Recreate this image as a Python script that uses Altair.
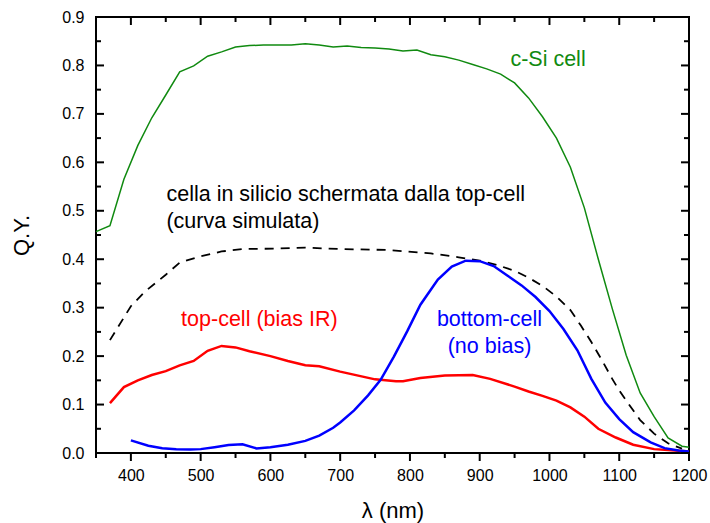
import altair as alt
import pandas as pd

# ---- data ----
csi_wl = [350, 370, 390, 410, 430, 450, 470, 490, 510, 530, 550, 570, 590, 610, 630, 650,
          670, 690, 710, 730, 750, 770, 790, 810, 830, 850, 870, 890, 910, 930, 950, 970,
          990, 1010, 1030, 1050, 1070, 1090, 1110, 1130, 1150, 1170, 1190, 1200]
csi_qy = [0.457, 0.469, 0.565, 0.635, 0.692, 0.739, 0.787, 0.799, 0.819, 0.828, 0.838, 0.841,
          0.842, 0.842, 0.842, 0.845, 0.842, 0.838, 0.840, 0.837, 0.836, 0.834, 0.830, 0.832,
          0.822, 0.818, 0.811, 0.802, 0.793, 0.782, 0.764, 0.733, 0.694, 0.650, 0.590, 0.506,
          0.400, 0.298, 0.202, 0.124, 0.075, 0.031, 0.014, 0.012]

sim_wl = [370, 400, 420, 450, 470, 500, 530, 560, 610, 650, 700, 770, 830, 870, 900, 925,
          950, 970, 990, 1010, 1030, 1045, 1060, 1075, 1090, 1100, 1115, 1130, 1150, 1170, 1190]
sim_qy = [0.233, 0.303, 0.333, 0.368, 0.393, 0.406, 0.416, 0.421, 0.422, 0.424, 0.421, 0.419,
          0.412, 0.404, 0.397, 0.388, 0.376, 0.362, 0.345, 0.323, 0.295, 0.263, 0.229, 0.192,
          0.153, 0.129, 0.098, 0.068, 0.040, 0.020, 0.009]

top_wl = [370, 390, 410, 430, 450, 470, 490, 510, 530, 550, 570, 600, 625, 650, 670, 700, 750,
          780, 790, 815, 850, 890, 915, 950, 970, 990, 1010, 1030, 1050, 1070, 1095, 1120, 1150,
          1180, 1200]
top_qy = [0.103, 0.136, 0.150, 0.161, 0.169, 0.181, 0.190, 0.211, 0.221, 0.218, 0.210, 0.200,
          0.190, 0.181, 0.179, 0.168, 0.152, 0.148, 0.148, 0.155, 0.160, 0.161, 0.153, 0.137,
          0.127, 0.118, 0.108, 0.094, 0.075, 0.050, 0.032, 0.017, 0.008, 0.005, 0.003]

bot_wl = [400, 425, 445, 465, 485, 500, 520, 540, 560, 580, 600, 625, 650, 670, 690, 700, 720,
          740, 758, 777, 796, 815, 840, 860, 880, 900, 920, 940, 960, 980, 1000, 1020, 1040,
          1060, 1080, 1100, 1120, 1145, 1165, 1185, 1200]
bot_qy = [0.026, 0.015, 0.010, 0.0075, 0.007, 0.008, 0.012, 0.0165, 0.018, 0.0095, 0.012,
          0.017, 0.025, 0.036, 0.052, 0.063, 0.088, 0.119, 0.151, 0.199, 0.251, 0.306, 0.358,
          0.385, 0.397, 0.396, 0.386, 0.366, 0.346, 0.322, 0.293, 0.256, 0.212, 0.153, 0.104,
          0.070, 0.043, 0.022, 0.010, 0.005, 0.003]

x_major = [400, 500, 600, 700, 800, 900, 1000, 1100, 1200]
x_minor = [350, 450, 550, 650, 750, 850, 950, 1050, 1150]
y_major = [0.0, 0.1, 0.2, 0.3, 0.4, 0.5, 0.6, 0.7, 0.8, 0.9]
y_minor = [0.05, 0.15, 0.25, 0.35, 0.45, 0.55, 0.65, 0.75, 0.85]

# annotations: left-aligned and centred groups
annL_text = ["c-Si cell", "cella in silicio schermata dalla top-cell", "(curva simulata)",
             "top-cell (bias IR)"]
annL_wl = [944, 451, 451, 472]
annL_qy = [0.811, 0.532, 0.477, 0.275]
annL_color = ["#108a10", "black", "black", "#ff0000"]
annC_text = ["bottom-cell", "(no bias)"]
annC_wl = [914, 914]
annC_qy = [0.275, 0.2185]
annC_color = ["#0000ff", "#0000ff"]

FONT = "Liberation Sans"
W, H = 593, 436
MAJ, MIN = 8, 5

xs = alt.Scale(domain=[350, 1200], nice=False, zero=False)
ys = alt.Scale(domain=[0, 0.9], nice=False, zero=False)

df_csi = pd.DataFrame({"wl": csi_wl, "qy": csi_qy})
df_sim = pd.DataFrame({"wl": sim_wl, "qy": sim_qy})
df_top = pd.DataFrame({"wl": top_wl, "qy": top_qy})
df_bot = pd.DataFrame({"wl": bot_wl, "qy": bot_qy})
df_annL = pd.DataFrame({"t": annL_text, "wl": annL_wl, "qy": annL_qy, "c": annL_color})
df_annC = pd.DataFrame({"t": annC_text, "wl": annC_wl, "qy": annC_qy, "c": annC_color})

x_label_axis = alt.Axis(values=x_major, orient="bottom", ticks=False, tickSize=0,
                        labelPadding=14, domain=False, grid=False, title="λ (nm)",
                        format="d", labelFlush=False, labelOverlap=False, labelFont=FONT,
                        labelFontSize=16, labelColor="black", titleFont=FONT,
                        titleFontSize=22, titleFontWeight="normal", titleColor="black",
                        titlePadding=17)
y_label_axis = alt.Axis(values=y_major, orient="left", ticks=False, tickSize=0,
                        labelPadding=12, domain=False, grid=False, title="Q.Y.",
                        format=".1f", labelFlush=False, labelOverlap=False,
                        labelFont=FONT, labelFontSize=16, labelColor="black",
                        titleFont=FONT, titleFontSize=22, titleFontWeight="normal",
                        titleColor="black", titlePadding=28)


def line(df, color, width, dash=None, xaxis=None, yaxis=None):
    kw = dict(color=color, strokeWidth=width)
    if dash:
        kw["strokeDash"] = dash
    return alt.Chart(df).mark_line(**kw).encode(
        x=alt.X("wl:Q", scale=xs, axis=xaxis),
        y=alt.Y("qy:Q", scale=ys, axis=yaxis),
    )


green = line(df_csi, "#108a10", 1.5, xaxis=x_label_axis, yaxis=y_label_axis)
dashed = line(df_sim, "black", 1.8, dash=[9, 7])
red = line(df_top, "#ff0000", 2.5)
blue = line(df_bot, "#0000ff", 2.5)


# ---- tick marks (positions through the shared scales, lengths in pixels) ----
def xticks(values, y0, y1):
    return alt.Chart(pd.DataFrame({"v": values})).mark_rule(
        color="black", strokeWidth=2).encode(
        x=alt.X("v:Q", scale=xs, axis=None), y=alt.value(y0), y2=alt.value(y1))


def yticks(values, x0, x1):
    return alt.Chart(pd.DataFrame({"v": values})).mark_rule(
        color="black", strokeWidth=2).encode(
        y=alt.Y("v:Q", scale=ys, axis=None), x=alt.value(x0), x2=alt.value(x1))


tick_layers = [
    xticks(x_major, H, H + MAJ),          # bottom major (outward)
    xticks(x_minor, H, H + MIN),          # bottom minor (outward)
    xticks(x_major, 0, MAJ),              # top major (inward)
    xticks(x_minor, 0, MIN),              # top minor (inward)
    yticks(y_major, 0, MAJ),              # left major (inward)
    yticks(y_minor, 0, MIN),              # left minor (inward)
    yticks(y_major, W - MAJ, W),          # right major (inward)
    yticks(y_minor, W - MIN, W),          # right minor (inward)
]


def text_layer(df, align):
    return alt.Chart(df).mark_text(font=FONT, fontSize=21.5, baseline="middle",
                                   align=align).encode(
        x=alt.X("wl:Q", scale=xs, axis=None),
        y=alt.Y("qy:Q", scale=ys, axis=None),
        text="t:N",
        color=alt.Color("c:N", scale=None, legend=None),
    )


chart = alt.layer(green, dashed, red, blue, *tick_layers,
                  text_layer(df_annL, "left"), text_layer(df_annC, "center")).resolve_axis(
    x="independent", y="independent"
).properties(
    width=W, height=H,
    autosize=alt.AutoSizeParams(type="none"),
    padding={"left": 96, "top": 17, "right": 21, "bottom": 70},
    background="white",
).configure_view(stroke="black", strokeWidth=2)

chart.save("out.html", embed_options={"renderer": "svg", "actions": False})
